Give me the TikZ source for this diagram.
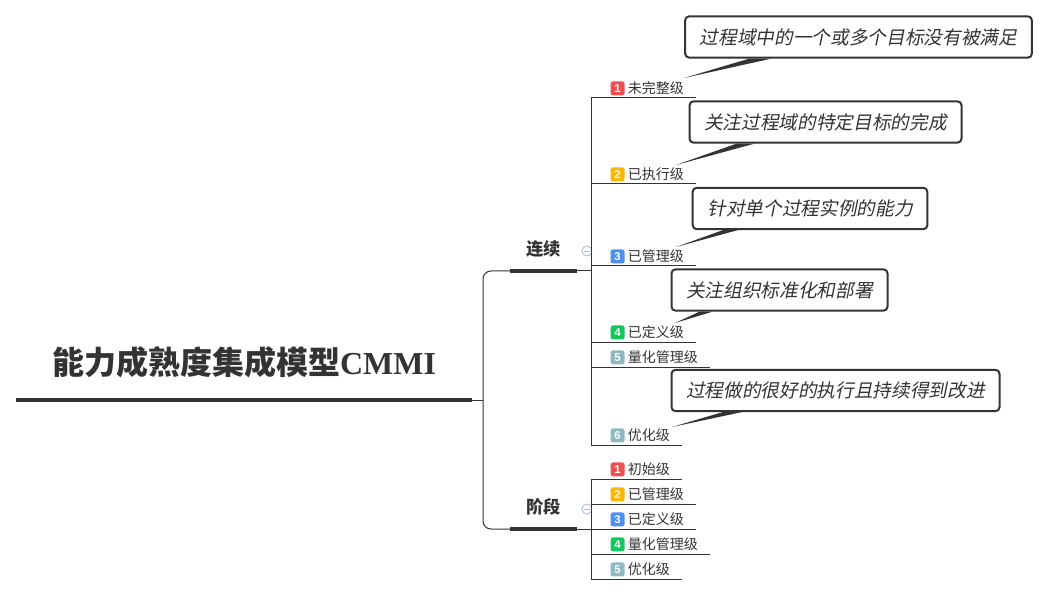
\documentclass[tikz,border=0pt]{standalone}
\usepackage{fontspec}
\setmainfont{Noto Sans CJK SC}
\newfontfamily\cjkslant{Noto Sans CJK SC}[FakeSlant=0.2]
\newfontfamily\latinserif{Liberation Serif}
\newfontfamily\badgefont{Liberation Sans}
\usetikzlibrary{calc}

\definecolor{ink}{HTML}{333333}
\definecolor{lvred}{HTML}{EE5050}
\definecolor{lvorange}{HTML}{FFB400}
\definecolor{lvblue}{HTML}{4A90F5}
\definecolor{lvgreen}{HTML}{12C85A}
\definecolor{lvteal}{HTML}{8DBAC2}
\definecolor{foldblue}{HTML}{A8B8E0}

\tikzstyle{every node}=[text=ink]
\tikzstyle{topic} = [anchor=south, minimum width=342pt, inner xsep=0pt, inner ysep=0.75pt, text depth=18pt, font=\fontsize{24}{28}\selectfont\bfseries]
\tikzstyle{branch} = [anchor=south, minimum width=50pt, inner xsep=0pt, inner ysep=1pt, text depth=10.5pt, font=\fontsize{13}{15}\selectfont\bfseries]
\tikzstyle{level} = [anchor=south west, inner xsep=5pt, inner ysep=1.5pt, text height=8pt, text depth=1.5pt, font=\fontsize{10.5}{12}\selectfont]
\tikzstyle{note} = [draw=ink, line width=1.5pt, rounded corners=3pt, fill=white, minimum height=31pt, inner xsep=11pt, font=\cjkslant\fontsize{14}{16}\selectfont]
\tikzstyle{bar} = [draw=ink, line width=3pt]
\tikzstyle{thickbar} = [draw=ink, line width=2.6pt]
\tikzstyle{link} = [draw=ink, line width=0.75pt]
\tikzstyle{tail} = [fill=ink]
\tikzstyle{fold} = [circle, draw=foldblue, line width=0.6pt, minimum size=7.5pt, inner sep=0pt,
  path picture={\draw[foldblue, line width=0.6pt] ([xshift=1.5pt]path picture bounding box.west) -- ([xshift=-1.5pt]path picture bounding box.east);}]
\tikzset{badge/.style={fill=#1, anchor=center, rounded corners=1.8pt, inner sep=0pt, minimum width=10.5pt, minimum height=10.5pt,
  text height=6pt, text depth=0pt, text=white, font=\badgefont\bfseries\fontsize{8.5}{9}\selectfont}}

\newcommand{\lvl}[2]{\tikz[baseline={(0,-4pt)}]\node[badge=#2] {#1};\hspace{2.5pt}}

\begin{document}
\begin{tikzpicture}[x=0.75pt, y=-0.75pt]
  \useasboundingbox (0,0) rectangle (1049,595);

  \node (root) [topic] at (244,400) {能力成熟度集成模型{\latinserif\bfseries CMMI}};
  \node (cont) [branch] at (543.5,271) {连续};
  \node (stage) [branch] at (543.5,529) {阶段};
  \node (fc) [fold] at (587,251) {};
  \node (fs) [fold] at (587,509) {};

  % continuous levels
  \node (l1) [level] at (591,98) {\hspace*{9.5pt}\lvl{1}{lvred}未完整级\hspace*{4pt}};
  \node (l2) [level] at (591,184) {\hspace*{9.5pt}\lvl{2}{lvorange}已执行级\hspace*{4pt}};
  \node (l3) [level] at (591,266) {\hspace*{9.5pt}\lvl{3}{lvblue}已管理级\hspace*{4pt}};
  \node (l4) [level] at (591,342) {\hspace*{9.5pt}\lvl{4}{lvgreen}已定义级\hspace*{4pt}};
  \node (l5) [level] at (591,367) {\hspace*{9.5pt}\lvl{5}{lvteal}量化管理级\hspace*{4pt}};
  \node (l6) [level] at (591,445) {\hspace*{9.5pt}\lvl{6}{lvteal}优化级\hspace*{4pt}};

  % staged levels
  \node (s1) [level] at (591,479) {\hspace*{9.5pt}\lvl{1}{lvred}初始级\hspace*{4pt}};
  \node (s2) [level] at (591,504) {\hspace*{9.5pt}\lvl{2}{lvorange}已管理级\hspace*{4pt}};
  \node (s3) [level] at (591,529) {\hspace*{9.5pt}\lvl{3}{lvblue}已定义级\hspace*{4pt}};
  \node (s4) [level] at (591,554) {\hspace*{9.5pt}\lvl{4}{lvgreen}量化管理级\hspace*{4pt}};
  \node (s5) [level] at (591,579) {\hspace*{9.5pt}\lvl{5}{lvteal}优化级\hspace*{4pt}};

  \draw [bar] (root.south west) -- (root.south east);
  \draw [thickbar] (cont.south west) -- (cont.south east);
  \draw [thickbar] (stage.south west) -- (stage.south east);

  \coordinate (fork) at (483,400);
  \draw [link] (root.south east) -- (fork);
  \draw [link, rounded corners=6pt] (fork) |- (cont.south west);
  \draw [link, rounded corners=6pt] (fork) |- (stage.south west);

  \draw [link] (cont.south east) -- (cont.south east -| l1.south west);
  \draw [link] (l1.south west) -- (l6.south west);
  \draw [link] (stage.south east) -- (stage.south east -| s1.south west);
  \draw [link] (s1.south west) -- (s5.south west);
  \foreach \n in {l1,l2,l3,l4,l5,l6,s1,s2,s3,s4,s5}
    \draw [link] (\n.south west) -- (\n.south east);

  % notes
  \node (n1) [note] at (858.5,37) {过程域中的一个或多个目标没有被满足};
  \node (n2) [note] at (825.5,122) {关注过程域的特定目标的完成};
  \node (n3) [note] at (810,208.5) {针对单个过程实例的能力};
  \node (n4) [note] at (779.5,290) {关注组织标准化和部署};
  \node (n5) [note] at (835.5,390.5) {过程做的很好的执行且持续得到改进};

  \coordinate (t1) at (684,78);
  \coordinate (t2) at (676,165);
  \coordinate (t3) at (676,247);
  \coordinate (t4) at (675,323);
  \coordinate (t5) at (672,427);
  \foreach \n/\t/\a/\b in {n1/t1/65/87, n2/t2/48/66, n3/t3/31/46, n4/t4/29/42, n5/t5/52/71}
    \fill [tail] ($(\n.south west)+(\a,0)$) -- (\t) -- ($(\n.south west)+(\b,0)$) -- cycle;
\end{tikzpicture}
\end{document}
